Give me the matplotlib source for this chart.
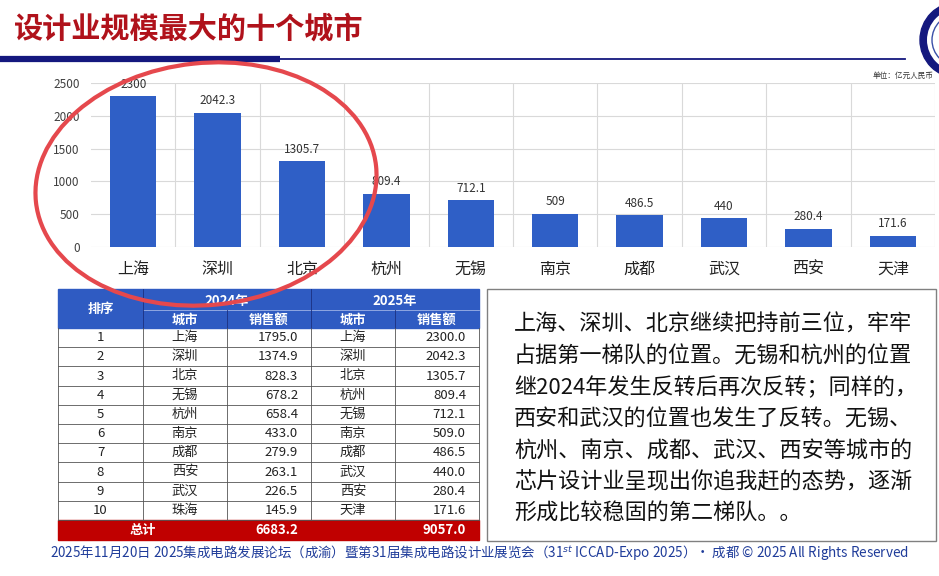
import matplotlib
matplotlib.use("Agg")
import matplotlib.pyplot as plt
from matplotlib.patches import Ellipse, Rectangle, Circle

plt.rcParams["font.family"] = ["Noto Sans CJK SC", "DejaVu Sans"]

# chart data (unit: 亿元人民币)
cities = ["上海", "深圳", "北京", "杭州", "无锡", "南京", "成都", "武汉", "西安", "天津"]
sales = [2300, 2042.3, 1305.7, 809.4, 712.1, 509, 486.5, 440, 280.4, 171.6]
value_labels = ["2300", "2042.3", "1305.7", "809.4", "712.1", "509", "486.5", "440", "280.4", "171.6"]

# table data
ranks = [str(i) for i in range(1, 11)]
cities_2024 = ["上海", "深圳", "北京", "无锡", "杭州", "南京", "成都", "西安", "武汉", "珠海"]
sales_2024 = [1795.0, 1374.9, 828.3, 678.2, 658.4, 433.0, 279.9, 263.1, 226.5, 145.9]
cities_2025 = ["上海", "深圳", "北京", "杭州", "无锡", "南京", "成都", "武汉", "西安", "天津"]
sales_2025 = [2300.0, 2042.3, 1305.7, 809.4, 712.1, 509.0, 486.5, 440.0, 280.4, 171.6]
total_2024 = 6683.2
total_2025 = 9057.0

comment_lines = [
    "上海、深圳、北京继续把持前三位，牢牢",
    "占据第一梯队的位置。无锡和杭州的位置",
    "继2024年发生反转后再次反转；同样的，",
    "西安和武汉的位置也发生了反转。无锡、",
    "杭州、南京、成都、武汉、西安等城市的",
    "芯片设计业呈现出你追我赶的态势，逐渐",
    "形成比较稳固的第二梯队。。",
]

title = "设计业规模最大的十个城市"
footer = ("2025年11月20日 2025集成电路发展论坛（成渝）暨第31届集成电路设计业展览会"
          "（31$^{st}$ ICCAD-Expo 2025）· 成都 © 2025 All Rights Reserved")

W, H = 939, 576
BLUE = "#2F5FC6"
NAVY = "#14187E"

fig = plt.figure(figsize=(W / 100, H / 100), dpi=100)

# background layer in pixel coordinates
bg = fig.add_axes([0, 0, 1, 1])
bg.set_xlim(0, W)
bg.set_ylim(H, 0)
bg.axis("off")

bg.text(14, 29, title, fontsize=21, fontweight="bold", color="#B0121B", va="center", ha="left")
bg.plot([0, 280], [59, 59], color=NAVY, lw=4.5, solid_capstyle="butt")
bg.plot([280, 905], [59, 59], color=NAVY, lw=1.3)
# logo, mostly cut off at the right edge
bg.add_patch(Circle((958, 40), 38, color=NAVY))
bg.add_patch(Circle((958, 40), 31, facecolor="white", edgecolor="none"))
bg.add_patch(Circle((958, 40), 26, facecolor="none", edgecolor="#3A4FA8", lw=1))
bg.text(934, 76, "单位：亿元人民币", fontsize=5.5, ha="right", va="center", color="#333333")

# table
col_x = [58, 143, 227, 311, 395, 479]
top, h1, h2 = 289, 310, 328
row_h = 19.2
bg.add_patch(Rectangle((col_x[0], top), col_x[-1] - col_x[0], h2 - top, color="#2F5BC2"))
hdr = dict(color="white", fontsize=9.5, fontweight="bold", ha="center", va="center")
bg.text((col_x[0] + col_x[1]) / 2, (top + h2) / 2, "排序", **hdr)
bg.text((col_x[1] + col_x[3]) / 2, (top + h1) / 2 + 1, "2024年", **hdr)
bg.text((col_x[3] + col_x[5]) / 2, (top + h1) / 2 + 1, "2025年", **hdr)
for i, lab in enumerate(["城市", "销售额", "城市", "销售额"]):
    bg.text((col_x[i + 1] + col_x[i + 2]) / 2, (h1 + h2) / 2 + 1, lab, **hdr)
bg.plot([col_x[1], col_x[5]], [h1, h1], color="#9FB3E6", lw=0.6)
for x in col_x[1:5]:
    bg.plot([x, x], [top if x in (col_x[1], col_x[3]) else h1, h2], color="#1B2F80", lw=0.6)

cell = dict(fontsize=9.5, va="center", color="#222222")
for i in range(10):
    yc = h2 + row_h * (i + 0.5)
    bg.text((col_x[0] + col_x[1]) / 2, yc, ranks[i], ha="center", **cell)
    bg.text((col_x[1] + col_x[2]) / 2, yc, cities_2024[i], ha="center", **cell)
    bg.text(col_x[3] - 13, yc, f"{sales_2024[i]:.1f}", ha="right", **cell)
    bg.text((col_x[3] + col_x[4]) / 2, yc, cities_2025[i], ha="center", **cell)
    bg.text(col_x[5] - 13, yc, f"{sales_2025[i]:.1f}", ha="right", **cell)
    bg.plot([col_x[0], col_x[5]], [h2 + row_h * (i + 1)] * 2, color="#555555", lw=0.6)
bot = h2 + row_h * 10
for x in col_x:
    bg.plot([x, x], [h2, bot], color="#555555", lw=0.6)
bg.add_patch(Rectangle((col_x[0], bot), col_x[-1] - col_x[0], 20, color="#C00000"))
tot = dict(color="white", fontsize=9.5, fontweight="bold", va="center")
bg.text((col_x[0] + col_x[2]) / 2, bot + 10, "总计", ha="center", **tot)
bg.text(col_x[3] - 13, bot + 10, f"{total_2024:.1f}", ha="right", **tot)
bg.text(col_x[5] - 13, bot + 10, f"{total_2025:.1f}", ha="right", **tot)

# comment box
bg.add_patch(Rectangle((487, 289), 449, 252, facecolor="white", edgecolor="#808080", lw=1))
for i, line in enumerate(comment_lines):
    bg.text(514, 325 + i * 31.4, line, fontsize=15.9, ha="left", va="center", color="#111111")

bg.text(479, 553, footer, fontsize=9.7, ha="center", va="center", color="#1F3C9A")

# bar chart
ax = fig.add_axes([91 / W, 1 - 247 / H, (935 - 91) / W, (247 - 83) / H])
x = range(len(cities))
bars = ax.bar(x, sales, width=0.55, color=BLUE, zorder=3)
for rect, lab in zip(bars, value_labels):
    ax.annotate(lab, (rect.get_x() + rect.get_width() / 2, rect.get_height()),
                xytext=(0, 4), textcoords="offset points", ha="center", va="bottom",
                fontsize=8.5, color="#333333")
ax.set_xlim(-0.5, 9.5)
ax.set_ylim(0, 2500)
ax.set_yticks(range(0, 2501, 500))
ax.set_xticks(list(x))
ax.set_xticklabels(cities, fontsize=11.5, color="#222222")
ax.tick_params(axis="x", length=0, pad=10)
ax.tick_params(axis="y", length=0, pad=8, labelsize=8.5, labelcolor="#404040")
ax.grid(axis="y", color="#D9D9D9", lw=0.8, zorder=0)
for b in [i + 0.5 for i in range(10)]:
    ax.axvline(b, color="#D9D9D9", lw=0.8, zorder=0)
for s in ax.spines.values():
    s.set_visible(False)
ax.patch.set_alpha(0)

# highlight ellipse over the top three cities
ov = fig.add_axes([0, 0, 1, 1], zorder=10)
ov.set_xlim(0, W)
ov.set_ylim(H, 0)
ov.axis("off")
ov.patch.set_alpha(0)
ov.add_patch(Ellipse((206, 184), 342, 242, angle=-6, fill=False, edgecolor="#E5484D", lw=3))

fig.savefig("out.png", dpi=100)
